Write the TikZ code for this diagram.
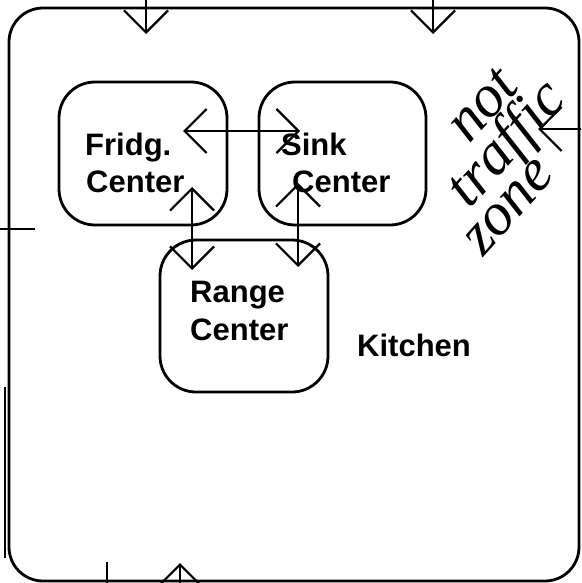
\documentclass[tikz,border=0pt]{standalone}
\usepackage{fontspec}
\setmainfont{Liberation Sans}
\newfontfamily\handfont{Liberation Serif}
\usetikzlibrary{arrows.meta}
\begin{document}
\begin{tikzpicture}[x=1pt,y=-1pt,
  wall/.style={draw, line width=2.8pt, rounded corners=34pt, inner sep=0},
  centerbox/.style={draw, line width=2.8pt, rounded corners=36pt, inner sep=0},
  lbl/.style={font=\bfseries\fontsize{31}{37}\selectfont, anchor=base west, inner sep=0},
  hand/.style={font=\handfont\itshape\fontsize{60}{42}\selectfont, align=left, anchor=base west, inner sep=0, rotate=48},
  flow/.style={line width=2.2pt},
  barb/.style={line width=2.2pt, -{Straight Barb[length=22pt,width=44pt]}},
  dbarb/.style={line width=2.2pt, {Straight Barb[length=22pt,width=44pt]}-{Straight Barb[length=22pt,width=44pt]}}
]
\useasboundingbox (0,0) rectangle (581,583);
\clip (0,0) rectangle (581,583);
\fill[white] (0,0) rectangle (581,583);

% outer kitchen wall
\node[wall, minimum width=570pt, minimum height=573pt] (room) at (294,294.5) {};
\coordinate (w1) at (5,387);
\coordinate (w2) at (5,558);
\draw[line width=1.6pt] (w1) -- (w2);

% centers
\node[centerbox, minimum width=168pt, minimum height=143pt] (fridge) at (143,153.5) {};
\node[centerbox, minimum width=167pt, minimum height=143pt] (sink) at (342.5,153.5) {};
\node[centerbox, minimum width=168pt, minimum height=152pt] (range) at (244,316) {};

% labels
\node[lbl] (fl1) at (85,155) {Fridg.};
\node[lbl] (fl2) at (86,192) {Center};
\node[lbl] (sl1) at (281,155) {Sink};
\node[lbl] (sl2) at (292,192) {Center};
\node[lbl] (rl1) at (190,302) {Range};
\node[lbl] (rl2) at (190,340) {Center};
\node[lbl] (kl) at (357,356) {Kitchen};

% handwritten note
\node[hand] (note) at (483,258) {\hspace*{75pt}not\\\hspace*{27pt}traffic\\zone};

% flow arrows between centers
\coordinate (fs1) at (183,131);
\coordinate (fs2) at (300,131);
\draw[dbarb] (fs1) -- (fs2);
\coordinate (fr1) at (192,187);
\coordinate (fr2) at (192,270);
\draw[dbarb] (fr1) -- (fr2);
\coordinate (sr1) at (298,183);
\coordinate (sr2) at (298,267);
\draw[dbarb] (sr1) -- (sr2);

% entries
\coordinate (t1a) at (146,-2);
\coordinate (t1b) at (146,34);
\draw[barb] (t1a) -- (t1b);
\coordinate (t2a) at (433,-2);
\coordinate (t2b) at (433,34);
\draw[barb] (t2a) -- (t2b);
\coordinate (r1a) at (583,129);
\coordinate (r1b) at (538,129);
\draw[barb] (r1a) -- (r1b);
\coordinate (b1a) at (180,585);
\coordinate (b1b) at (180,563);
\draw[barb] (b1a) -- (b1b);
\coordinate (tk1) at (107,562);
\coordinate (tk2) at (107,585);
\draw[flow] (tk1) -- (tk2);
\coordinate (l1) at (-2,229);
\coordinate (l2) at (35,229);
\draw[flow] (l1) -- (l2);
\end{tikzpicture}
\end{document}
